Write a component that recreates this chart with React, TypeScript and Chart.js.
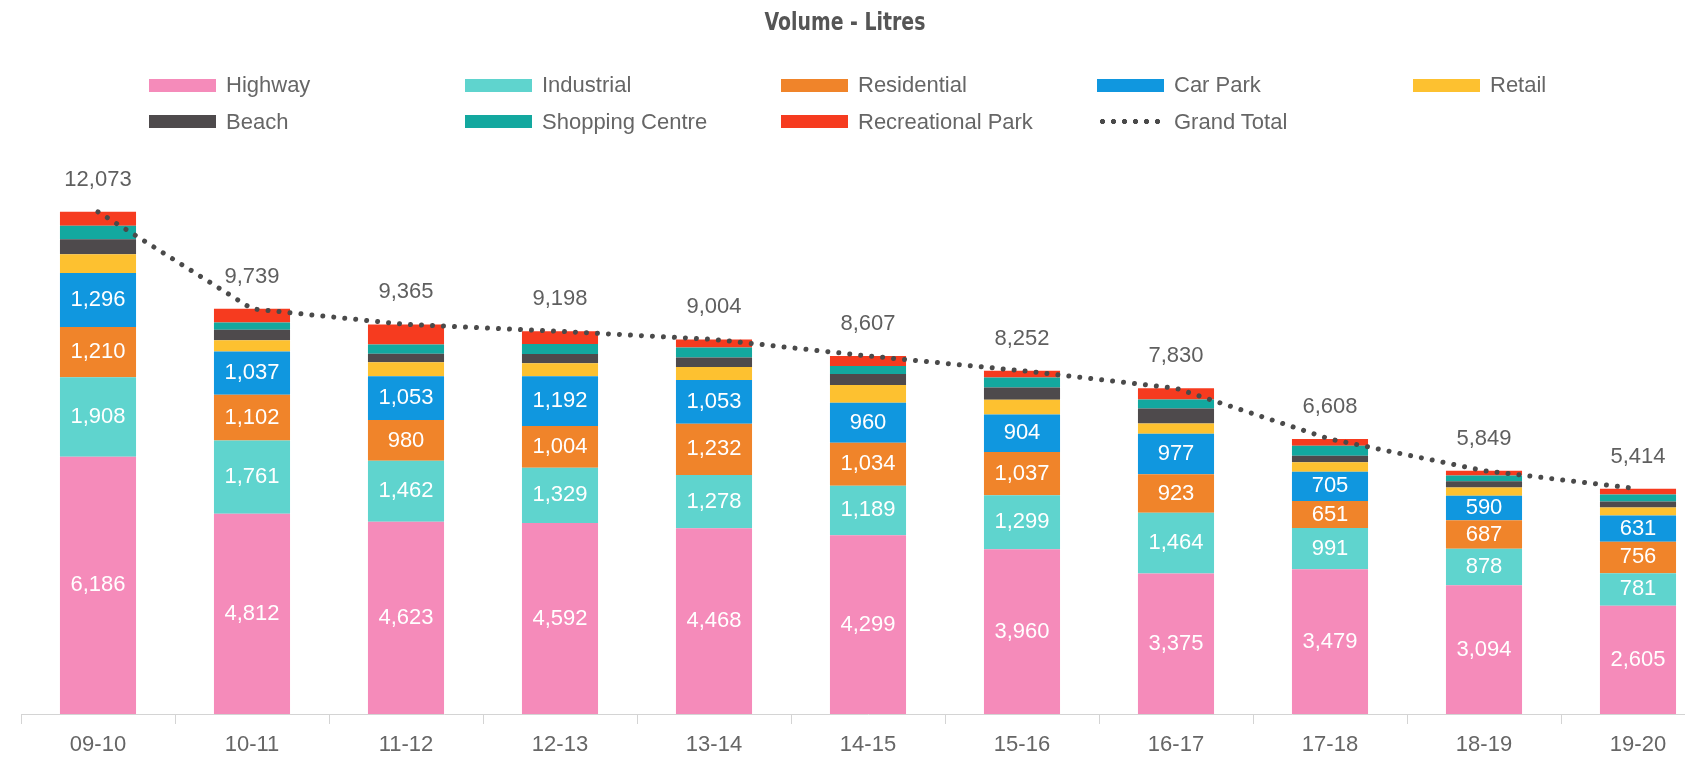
import React, { useEffect, useRef } from "react";
import { Chart, registerables } from "chart.js";

Chart.register(...registerables);

const categories = ["09-10", "10-11", "11-12", "12-13", "13-14", "14-15", "15-16", "16-17", "17-18", "18-19", "19-20"];
const highway = [6186, 4812, 4623, 4592, 4468, 4299, 3960, 3375, 3479, 3094, 2605];
const industrial = [1908, 1761, 1462, 1329, 1278, 1189, 1299, 1464, 991, 878, 781];
const residential = [1210, 1102, 980, 1004, 1232, 1034, 1037, 923, 651, 687, 756];
const carPark = [1296, 1037, 1053, 1192, 1053, 960, 904, 977, 705, 590, 631];
const retail = [450, 272, 339, 313, 311, 427, 355, 242, 226, 195, 189];
const beach = [362, 250, 200, 224, 226, 266, 292, 364, 153, 148, 148];
const shoppingCentre = [322, 180, 225, 240, 241, 192, 243, 218, 242, 140, 164];
const recreationalPark = [339, 325, 483, 304, 195, 240, 162, 267, 161, 117, 140];
const grandTotal = [12073, 9739, 9365, 9198, 9004, 8607, 8252, 7830, 6608, 5849, 5414];

const seriesNames = ["Highway", "Industrial", "Residential", "Car Park", "Retail", "Beach", "Shopping Centre", "Recreational Park"];
const seriesColors = ["#F58BBA", "#5FD4CE", "#F0842A", "#1097DF", "#FDC130", "#4E4A4C", "#13A89F", "#F63B1F"];
const seriesValues = [highway, industrial, residential, carPark, retail, beach, shoppingCentre, recreationalPark];
const labelledSeries = 4;

const FONT = "'Liberation Sans', Arial, sans-serif";
const fmt = (v: number) => v.toLocaleString("en-US");

const labelPlugin = {
  id: "valueLabels",
  afterDatasetsDraw(chart: any) {
    const ctx = chart.ctx;
    ctx.save();
    ctx.font = `22px ${FONT}`;
    ctx.textAlign = "center";
    ctx.textBaseline = "middle";
    for (let d = 0; d < labelledSeries; d++) {
      const meta = chart.getDatasetMeta(d);
      meta.data.forEach((el: any, i: number) => {
        const v = chart.data.datasets[d].data[i];
        ctx.fillStyle = "#ffffff";
        ctx.fillText(fmt(v), el.x, (el.y + el.base) / 2);
      });
    }
    const lineIdx = chart.data.datasets.length - 1;
    const lm = chart.getDatasetMeta(lineIdx);
    lm.data.forEach((el: any, i: number) => {
      const v = chart.data.datasets[lineIdx].data[i];
      ctx.fillStyle = "#5f5f5f";
      ctx.fillText(fmt(v), el.x, el.y - 32);
    });
    ctx.restore();
  },
};

export default function App() {
  const ref = useRef<HTMLCanvasElement | null>(null);
  useEffect(() => {
    if (!ref.current) return;
    const datasets: any[] = seriesNames.map((name, i) => ({
      type: "bar",
      label: name,
      data: seriesValues[i],
      backgroundColor: seriesColors[i],
      borderWidth: 0,
      stack: "a",
      order: 2,
      barPercentage: 0.494,
      categoryPercentage: 1,
    }));
    datasets.push({
      type: "line",
      label: "Grand Total",
      data: grandTotal,
      borderColor: "#4a4a4a",
      borderWidth: 5,
      borderDash: [0.01, 11],
      borderCapStyle: "round",
      pointRadius: 0,
      fill: false,
      tension: 0,
      stack: "total",
      order: 0,
    });
    const chart = new Chart(ref.current, {
      type: "bar",
      data: { labels: categories, datasets },
      options: {
        responsive: false,
        animation: false,
        layout: { padding: { left: 21, right: 5, top: 90, bottom: 0 } },
        plugins: { legend: { display: false }, title: { display: false }, tooltip: { enabled: false } },
        scales: {
          x: {
            stacked: true,
            offset: true,
            grid: { display: true, drawOnChartArea: false, drawTicks: true, tickLength: 10, color: "#d4d4d4", offset: true },
            border: { display: true, color: "#d4d4d4", width: 1 },
            ticks: { color: "#666666", font: { family: FONT, size: 22 }, padding: 8, maxRotation: 0 },
            afterFit: (scale: any) => {
              scale.height = 46;
            },
          },
          y: {
            stacked: true,
            display: false,
            min: 0,
            max: 15000,
          },
        },
      } as any,
      plugins: [labelPlugin],
    });
    return () => chart.destroy();
  }, []);

  const legendItems = [...seriesNames.map((n, i) => ({ name: n, color: seriesColors[i], dotted: false })), { name: "Grand Total", color: "#4a4a4a", dotted: true }];

  return (
    <div style={{ position: "fixed", left: 0, top: 0, width: 1685, height: 760, overflow: "hidden", background: "#fff" }}>
      <canvas ref={ref} width={1720} height={760} style={{ position: "absolute", left: 0, top: 0, width: 1720, height: 760 }} />
      <div
        style={{
          position: "absolute",
          left: 645,
          width: 400,
          top: 6,
          textAlign: "center",
          fontFamily: "'DejaVu Sans Condensed', 'DejaVu Sans', sans-serif",
          fontWeight: "bold",
          fontSize: 25,
          color: "#555555",
          lineHeight: "32px",
          transform: "scaleX(0.84)",
          transformOrigin: "50% 50%",
        }}
      >
        Volume - Litres
      </div>
      {legendItems.map((it, i) => {
        const col = i % 5;
        const row = Math.floor(i / 5);
        const left = 149 + col * 316;
        const cy = row === 0 ? 85 : 121.5;
        return (
          <div key={it.name} style={{ position: "absolute", left, top: cy - 14, height: 28, display: "flex", alignItems: "center", whiteSpace: "nowrap" }}>
            <div
              style={
                it.dotted
                  ? {
                      width: 67,
                      height: 13,
                      backgroundImage: "radial-gradient(circle, #4a4a4a 2.4px, transparent 2.9px)",
                      backgroundSize: "11px 13px",
                      backgroundRepeat: "repeat-x",
                      backgroundPosition: "0 0",
                    }
                  : { width: 67, height: 13, background: it.color }
              }
            />
            <span style={{ marginLeft: 10, fontFamily: FONT, fontSize: 22, color: "#666666", lineHeight: "28px" }}>{it.name}</span>
          </div>
        );
      })}
    </div>
  );
}
